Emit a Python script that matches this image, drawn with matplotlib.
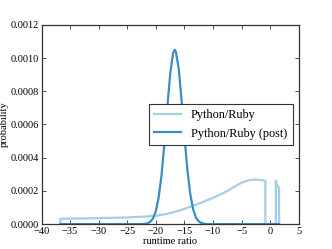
import matplotlib
matplotlib.use("Agg")
import matplotlib.pyplot as plt

# light curve: Python/Ruby
x_prior = [-36.7, -36.7, -35, -30, -25, -22, -20, -18, -16, -14, -12, -10, -8, -6, -5,
           -4, -3, -2, -1.2, -0.85, -0.85, 0.98, 0.98, 1.1, 1.2, 1.3, 1.55, 1.55]
y_prior = [0, 3.2e-5, 3.3e-5, 3.6e-5, 4.0e-5, 4.5e-5, 5.0e-5, 6.2e-5, 8.0e-5, 1.04e-4,
           1.3e-4, 1.58e-4, 1.9e-4, 2.3e-4, 2.5e-4, 2.62e-4, 2.68e-4, 2.67e-4, 2.63e-4,
           2.6e-4, 0, 0, 2.62e-4, 2.5e-4, 2.35e-4, 2.25e-4, 2.2e-4, 0]

# dark curve: Python/Ruby (post)
x_post = [-36.7, -30, -25, -23, -22, -21.5, -21, -20.5, -20, -19.5, -19, -18.5, -18, -17.5,
          -17, -16.7, -16.5, -16, -15.5, -15, -14.5, -14, -13.5, -13, -12.5, -12, -11.5,
          -11, -5, 0, 1.55]
y_post = [0, 0, 0, 0, 1.3e-6, 4.4e-6, 1.3e-5, 3.4e-5, 7.9e-5, 1.63e-4, 2.98e-4, 4.86e-4,
          7.03e-4, 9.02e-4, 1.028e-3, 1.05e-3, 1.04e-3, 9.35e-4, 7.46e-4, 5.28e-4, 3.32e-4,
          1.85e-4, 9.2e-5, 4.0e-5, 1.6e-5, 5.5e-6, 1.5e-6, 0, 0, 0, 0]

labels = ["Python/Ruby", "Python/Ruby (post)"]
xticks = [-40, -35, -30, -25, -20, -15, -10, -5, 0, 5]
yticks = [0.0, 0.0002, 0.0004, 0.0006, 0.0008, 0.0010, 0.0012]

plt.rcParams['font.family'] = ['Liberation Serif', 'DejaVu Serif']

fig = plt.figure(figsize=(3.32, 2.49), dpi=100, facecolor='white')
ax = fig.add_axes([0.125, 0.1, 0.775, 0.8])
ax.plot(x_prior, y_prior, color='#a6cee3', lw=1.6, label=labels[0])
ax.plot(x_post, y_post, color='#3a8dc5', lw=1.6, label=labels[1])

ax.set_xlim(-40, 5)
ax.set_ylim(0, 0.0012)
ax.set_xticks(xticks)
ax.set_yticks(yticks)
ax.set_xticklabels(["\u2212%d" % -t if t < 0 else "%d" % t for t in xticks])
ax.set_yticklabels(["%.4f" % t for t in yticks])
ax.tick_params(direction='in', top=True, right=True, labelsize=7.5, length=3, width=0.6,
               pad=2, colors='#333333', labelcolor='black')
for s in ax.spines.values():
    s.set_linewidth(0.9)
    s.set_color('#333333')
ax.set_xlabel("runtime ratio", fontsize=7.5, labelpad=1)
ax.set_ylabel("probability", fontsize=7.5, labelpad=1)

leg = ax.legend(loc='center right', fontsize=8.8, fancybox=False, framealpha=1,
                edgecolor='#333333', borderpad=0.45, handlelength=2.2)
leg.get_frame().set_linewidth(0.8)

fig.savefig("out.png", dpi=100, facecolor='white')
